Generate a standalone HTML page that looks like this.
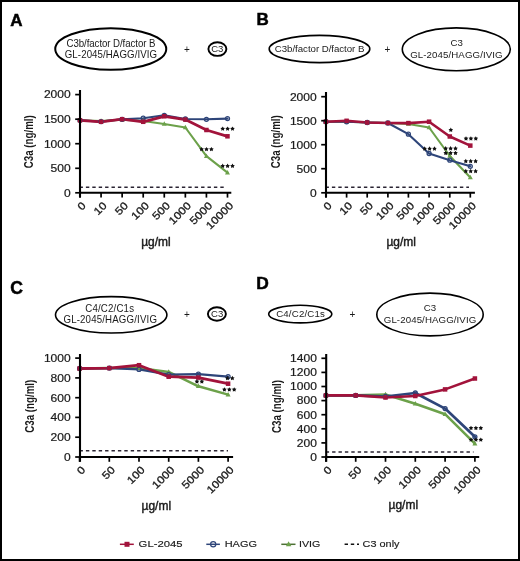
<!DOCTYPE html><html><head><meta charset="utf-8"><style>html,body{margin:0;padding:0;background:#fff;}svg{display:block;will-change:transform;}text{font-family:"Liberation Sans", sans-serif;}</style></head><body>
<svg width="520" height="561" viewBox="0 0 520 561">
<rect x="0" y="0" width="520" height="561" fill="#fff"/>
<rect x="1" y="1" width="518" height="559" fill="none" stroke="#000" stroke-width="2"/>
<text x="10.3" y="25.8" font-size="17" text-anchor="start" font-weight="bold" fill="#000" stroke="#000" stroke-width="0.5">A</text>
<text x="256.5" y="24.8" font-size="17" text-anchor="start" font-weight="bold" fill="#000" stroke="#000" stroke-width="0.5">B</text>
<text x="10.3" y="293.9" font-size="17.6" text-anchor="start" font-weight="bold" fill="#000" stroke="#000" stroke-width="0.5">C</text>
<text x="256.3" y="289" font-size="17.4" text-anchor="start" font-weight="bold" fill="#000" stroke="#000" stroke-width="0.5">D</text>
<ellipse cx="110.75" cy="49" rx="55.5" ry="20.8" fill="none" stroke="#000" stroke-width="2"/>
<text x="0" y="0" transform="translate(111 46.8) scale(1 1.15)" font-size="9.7" text-anchor="middle" font-weight="normal" fill="#1a1a1a" textLength="89" lengthAdjust="spacing" >C3b/factor D/factor B</text>
<text x="0" y="0" transform="translate(110.9 57.6) scale(1 1.15)" font-size="9.7" text-anchor="middle" font-weight="normal" fill="#1a1a1a" textLength="92.3" lengthAdjust="spacing" >GL-2045/HAGG/IVIG</text>
<text x="186.8" y="53" font-size="10" text-anchor="middle" font-weight="normal" fill="#1a1a1a" >+</text>
<ellipse cx="217.4" cy="49.1" rx="9" ry="6.8" fill="none" stroke="#000" stroke-width="1.9"/>
<text x="217.3" y="52.3" font-size="9.6" text-anchor="middle" font-weight="normal" fill="#1a1a1a" textLength="12.2" lengthAdjust="spacingAndGlyphs" >C3</text>
<ellipse cx="319.5" cy="49" rx="50.3" ry="13.6" fill="none" stroke="#000" stroke-width="1.6"/>
<text x="0" y="0" transform="translate(319.6 51.9) scale(1 0.95)" font-size="9.7" text-anchor="middle" font-weight="normal" fill="#1a1a1a" textLength="89.6" lengthAdjust="spacing" >C3b/factor D/factor B</text>
<text x="387.5" y="53" font-size="10" text-anchor="middle" font-weight="normal" fill="#1a1a1a" >+</text>
<ellipse cx="456.3" cy="49.3" rx="54" ry="21.4" fill="none" stroke="#000" stroke-width="1.6"/>
<text x="0" y="0" transform="translate(456.7 46) scale(1 0.97)" font-size="9.7" text-anchor="middle" font-weight="normal" fill="#1a1a1a" >C3</text>
<text x="0" y="0" transform="translate(456.4 57.8) scale(1 0.97)" font-size="9.7" text-anchor="middle" font-weight="normal" fill="#1a1a1a" textLength="92.5" lengthAdjust="spacing" >GL-2045/HAGG/IVIG</text>
<ellipse cx="111.2" cy="314.8" rx="55.7" ry="18.2" fill="none" stroke="#000" stroke-width="1.6"/>
<text x="0" y="0" transform="translate(109.6 312) scale(1 1.15)" font-size="9.7" text-anchor="middle" font-weight="normal" fill="#1a1a1a" textLength="48.8" lengthAdjust="spacing" >C4/C2/C1s</text>
<text x="0" y="0" transform="translate(110.2 323) scale(1 1.15)" font-size="9.7" text-anchor="middle" font-weight="normal" fill="#1a1a1a" textLength="93.5" lengthAdjust="spacing" >GL-2045/HAGG/IVIG</text>
<text x="186.8" y="318" font-size="10" text-anchor="middle" font-weight="normal" fill="#1a1a1a" >+</text>
<ellipse cx="216.9" cy="314" rx="9" ry="6.7" fill="none" stroke="#000" stroke-width="1.9"/>
<text x="217.1" y="317.3" font-size="9.6" text-anchor="middle" font-weight="normal" fill="#1a1a1a" textLength="12.2" lengthAdjust="spacingAndGlyphs" >C3</text>
<ellipse cx="300.25" cy="314.1" rx="31.6" ry="8.8" fill="none" stroke="#000" stroke-width="1.6"/>
<text x="0" y="0" transform="translate(300.5 317.3) scale(1 0.97)" font-size="9.7" text-anchor="middle" font-weight="normal" fill="#1a1a1a" textLength="48.7" lengthAdjust="spacing" >C4/C2/C1s</text>
<text x="352.5" y="318" font-size="10" text-anchor="middle" font-weight="normal" fill="#1a1a1a" >+</text>
<ellipse cx="430" cy="314.5" rx="53.2" ry="21.4" fill="none" stroke="#000" stroke-width="1.6"/>
<text x="0" y="0" transform="translate(430 311) scale(1 0.97)" font-size="9.7" text-anchor="middle" font-weight="normal" fill="#1a1a1a" >C3</text>
<text x="0" y="0" transform="translate(430 322.6) scale(1 0.97)" font-size="9.7" text-anchor="middle" font-weight="normal" fill="#1a1a1a" textLength="92.5" lengthAdjust="spacing" >GL-2045/HAGG/IVIG</text>
<line x1="79.5" y1="187.3" x2="224" y2="187.3" stroke="#2a2433" stroke-width="1.4" stroke-dasharray="3.4 3.0"/>
<polyline points="80,120.3 101.07,121 122.14,119.6 143.21,121 164.28,124 185.35,127.5 206.42,156.2 227.49,172.6" fill="none" stroke="#6ca14a" stroke-width="2.1" stroke-linejoin="round" stroke-linecap="round"/>
<polyline points="80,120.3 101.07,121.6 122.14,119.3 143.21,118.2 164.28,115.3 185.35,119 206.42,119.3 227.49,118.6" fill="none" stroke="#2e4579" stroke-width="2.1" stroke-linejoin="round" stroke-linecap="round"/>
<polyline points="80,120.3 101.07,121.8 122.14,119.2 143.21,121.8 164.28,116.3 185.35,119.6 206.42,130 227.49,136.3" fill="none" stroke="#a2133b" stroke-width="2.8" stroke-linejoin="round" stroke-linecap="round"/>
<polygon points="80,117.6 77.5,122.1 82.5,122.1" fill="#6ca14a"/>
<polygon points="101.07,118.3 98.57,122.8 103.57,122.8" fill="#6ca14a"/>
<polygon points="122.14,116.9 119.64,121.4 124.64,121.4" fill="#6ca14a"/>
<polygon points="143.21,118.3 140.71,122.8 145.71,122.8" fill="#6ca14a"/>
<polygon points="164.28,121.3 161.78,125.8 166.78,125.8" fill="#6ca14a"/>
<polygon points="185.35,124.8 182.85,129.3 187.85,129.3" fill="#6ca14a"/>
<polygon points="206.42,153.5 203.92,158 208.92,158" fill="#6ca14a"/>
<polygon points="227.49,169.9 224.99,174.4 229.99,174.4" fill="#6ca14a"/>
<circle cx="80" cy="120.3" r="2" fill="none" stroke="#2e4579" stroke-width="1.3"/>
<circle cx="101.07" cy="121.6" r="2" fill="none" stroke="#2e4579" stroke-width="1.3"/>
<circle cx="122.14" cy="119.3" r="2" fill="none" stroke="#2e4579" stroke-width="1.3"/>
<circle cx="143.21" cy="118.2" r="2" fill="none" stroke="#2e4579" stroke-width="1.3"/>
<circle cx="164.28" cy="115.3" r="2" fill="none" stroke="#2e4579" stroke-width="1.3"/>
<circle cx="185.35" cy="119" r="2" fill="none" stroke="#2e4579" stroke-width="1.3"/>
<circle cx="206.42" cy="119.3" r="2" fill="none" stroke="#2e4579" stroke-width="1.3"/>
<circle cx="227.49" cy="118.6" r="2" fill="none" stroke="#2e4579" stroke-width="1.3"/>
<rect x="77.75" y="118.05" width="4.5" height="4.5" fill="#a2133b"/>
<rect x="98.82" y="119.55" width="4.5" height="4.5" fill="#a2133b"/>
<rect x="119.89" y="116.95" width="4.5" height="4.5" fill="#a2133b"/>
<rect x="140.96" y="119.55" width="4.5" height="4.5" fill="#a2133b"/>
<rect x="162.03" y="114.05" width="4.5" height="4.5" fill="#a2133b"/>
<rect x="183.1" y="117.35" width="4.5" height="4.5" fill="#a2133b"/>
<rect x="204.17" y="127.75" width="4.5" height="4.5" fill="#a2133b"/>
<rect x="225.24" y="134.05" width="4.5" height="4.5" fill="#a2133b"/>
<polygon points="222.7,126.4 223.48,127.73 224.98,128.06 223.96,129.21 224.11,130.74 222.7,130.12 221.29,130.74 221.44,129.21 220.42,128.06 221.92,127.73" fill="#111"/>
<polygon points="227.6,126.4 228.38,127.73 229.88,128.06 228.86,129.21 229.01,130.74 227.6,130.12 226.19,130.74 226.34,129.21 225.32,128.06 226.82,127.73" fill="#111"/>
<polygon points="232.5,126.4 233.28,127.73 234.78,128.06 233.76,129.21 233.91,130.74 232.5,130.12 231.09,130.74 231.24,129.21 230.22,128.06 231.72,127.73" fill="#111"/>
<polygon points="201.6,146.9 202.38,148.23 203.88,148.56 202.86,149.71 203.01,151.24 201.6,150.62 200.19,151.24 200.34,149.71 199.32,148.56 200.82,148.23" fill="#111"/>
<polygon points="206.5,146.9 207.28,148.23 208.78,148.56 207.76,149.71 207.91,151.24 206.5,150.62 205.09,151.24 205.24,149.71 204.22,148.56 205.72,148.23" fill="#111"/>
<polygon points="211.4,146.9 212.18,148.23 213.68,148.56 212.66,149.71 212.81,151.24 211.4,150.62 209.99,151.24 210.14,149.71 209.12,148.56 210.62,148.23" fill="#111"/>
<polygon points="222.7,163.6 223.48,164.93 224.98,165.26 223.96,166.41 224.11,167.94 222.7,167.32 221.29,167.94 221.44,166.41 220.42,165.26 221.92,164.93" fill="#111"/>
<polygon points="227.6,163.6 228.38,164.93 229.88,165.26 228.86,166.41 229.01,167.94 227.6,167.32 226.19,167.94 226.34,166.41 225.32,165.26 226.82,164.93" fill="#111"/>
<polygon points="232.5,163.6 233.28,164.93 234.78,165.26 233.76,166.41 233.91,167.94 232.5,167.32 231.09,167.94 231.24,166.41 230.22,165.26 231.72,164.93" fill="#111"/>
<line x1="75.2" y1="94.6" x2="80" y2="94.6" stroke="#000" stroke-width="1.7" />
<text x="70.7" y="98.4" font-size="10.6" text-anchor="end" font-weight="normal" fill="#1a1a1a" textLength="26.8" lengthAdjust="spacingAndGlyphs" stroke="#1a1a1a" stroke-width="0.2">2000</text>
<line x1="75.2" y1="119.2" x2="80" y2="119.2" stroke="#000" stroke-width="1.7" />
<text x="70.7" y="123" font-size="10.6" text-anchor="end" font-weight="normal" fill="#1a1a1a" textLength="26.8" lengthAdjust="spacingAndGlyphs" stroke="#1a1a1a" stroke-width="0.2">1500</text>
<line x1="75.2" y1="143.7" x2="80" y2="143.7" stroke="#000" stroke-width="1.7" />
<text x="70.7" y="147.5" font-size="10.6" text-anchor="end" font-weight="normal" fill="#1a1a1a" textLength="26.8" lengthAdjust="spacingAndGlyphs" stroke="#1a1a1a" stroke-width="0.2">1000</text>
<line x1="75.2" y1="168.3" x2="80" y2="168.3" stroke="#000" stroke-width="1.7" />
<text x="70.7" y="172.1" font-size="10.6" text-anchor="end" font-weight="normal" fill="#1a1a1a" textLength="20.1" lengthAdjust="spacingAndGlyphs" stroke="#1a1a1a" stroke-width="0.2">500</text>
<line x1="75.2" y1="192.8" x2="80" y2="192.8" stroke="#000" stroke-width="1.7" />
<text x="70.7" y="196.6" font-size="10.6" text-anchor="end" font-weight="normal" fill="#1a1a1a" textLength="6.7" lengthAdjust="spacingAndGlyphs" stroke="#1a1a1a" stroke-width="0.2">0</text>
<line x1="80" y1="90" x2="80" y2="197.6" stroke="#000" stroke-width="2.1" />
<line x1="79" y1="192.8" x2="231.3" y2="192.8" stroke="#000" stroke-width="2.1" />
<line x1="80" y1="192.8" x2="80" y2="197.6" stroke="#000" stroke-width="1.7" />
<text x="0" y="0" font-size="10.6" text-anchor="end" fill="#1a1a1a" stroke="#1a1a1a" stroke-width="0.3" textLength="6.7" lengthAdjust="spacingAndGlyphs" transform="translate(86.5 206.3) rotate(-45)">0</text>
<line x1="101.07" y1="192.8" x2="101.07" y2="197.6" stroke="#000" stroke-width="1.7" />
<text x="0" y="0" font-size="10.6" text-anchor="end" fill="#1a1a1a" stroke="#1a1a1a" stroke-width="0.3" textLength="13.4" lengthAdjust="spacingAndGlyphs" transform="translate(107.57 206.3) rotate(-45)">10</text>
<line x1="122.14" y1="192.8" x2="122.14" y2="197.6" stroke="#000" stroke-width="1.7" />
<text x="0" y="0" font-size="10.6" text-anchor="end" fill="#1a1a1a" stroke="#1a1a1a" stroke-width="0.3" textLength="13.4" lengthAdjust="spacingAndGlyphs" transform="translate(128.64 206.3) rotate(-45)">50</text>
<line x1="143.21" y1="192.8" x2="143.21" y2="197.6" stroke="#000" stroke-width="1.7" />
<text x="0" y="0" font-size="10.6" text-anchor="end" fill="#1a1a1a" stroke="#1a1a1a" stroke-width="0.3" textLength="20.1" lengthAdjust="spacingAndGlyphs" transform="translate(149.71 206.3) rotate(-45)">100</text>
<line x1="164.28" y1="192.8" x2="164.28" y2="197.6" stroke="#000" stroke-width="1.7" />
<text x="0" y="0" font-size="10.6" text-anchor="end" fill="#1a1a1a" stroke="#1a1a1a" stroke-width="0.3" textLength="20.1" lengthAdjust="spacingAndGlyphs" transform="translate(170.78 206.3) rotate(-45)">500</text>
<line x1="185.35" y1="192.8" x2="185.35" y2="197.6" stroke="#000" stroke-width="1.7" />
<text x="0" y="0" font-size="10.6" text-anchor="end" fill="#1a1a1a" stroke="#1a1a1a" stroke-width="0.3" textLength="26.8" lengthAdjust="spacingAndGlyphs" transform="translate(191.85 206.3) rotate(-45)">1000</text>
<line x1="206.42" y1="192.8" x2="206.42" y2="197.6" stroke="#000" stroke-width="1.7" />
<text x="0" y="0" font-size="10.6" text-anchor="end" fill="#1a1a1a" stroke="#1a1a1a" stroke-width="0.3" textLength="26.8" lengthAdjust="spacingAndGlyphs" transform="translate(212.92 206.3) rotate(-45)">5000</text>
<line x1="227.49" y1="192.8" x2="227.49" y2="197.6" stroke="#000" stroke-width="1.7" />
<text x="0" y="0" font-size="10.6" text-anchor="end" fill="#1a1a1a" stroke="#1a1a1a" stroke-width="0.3" textLength="33.5" lengthAdjust="spacingAndGlyphs" transform="translate(233.99 206.3) rotate(-45)">10000</text>
<text x="0" y="0" font-size="13" font-weight="bold" text-anchor="middle" fill="#1a1a1a" textLength="53" lengthAdjust="spacingAndGlyphs" transform="translate(33.3 141.7) rotate(-90)">C3a (ng/ml)</text>
<text x="155.9" y="245.6" font-size="13" font-weight="normal" stroke="#1a1a1a" stroke-width="0.45" text-anchor="middle" fill="#1a1a1a" textLength="29.5" lengthAdjust="spacingAndGlyphs">µg/ml</text>
<line x1="325.5" y1="187.3" x2="469" y2="187.3" stroke="#2a2433" stroke-width="1.4" stroke-dasharray="3.4 3.0"/>
<polyline points="325.9,121.7 346.6,121.8 367.2,122.5 387.9,123 408.4,124 429.1,127.5 449.8,156 470.3,177.5" fill="none" stroke="#6ca14a" stroke-width="2.1" stroke-linejoin="round" stroke-linecap="round"/>
<polyline points="325.9,121.7 346.6,121.8 367.2,122.5 387.9,123 408.4,134.2 429.1,153.5 449.8,160.2 470.3,166.3" fill="none" stroke="#2e4579" stroke-width="2.1" stroke-linejoin="round" stroke-linecap="round"/>
<polyline points="325.9,121.7 346.6,120.8 367.2,122.5 387.9,123 408.4,123.1 429.1,121.7 449.8,136.5 470.3,145.6" fill="none" stroke="#a2133b" stroke-width="2.6" stroke-linejoin="round" stroke-linecap="round"/>
<polygon points="325.9,119 323.4,123.5 328.4,123.5" fill="#6ca14a"/>
<polygon points="346.6,119.1 344.1,123.6 349.1,123.6" fill="#6ca14a"/>
<polygon points="367.2,119.8 364.7,124.3 369.7,124.3" fill="#6ca14a"/>
<polygon points="387.9,120.3 385.4,124.8 390.4,124.8" fill="#6ca14a"/>
<polygon points="408.4,121.3 405.9,125.8 410.9,125.8" fill="#6ca14a"/>
<polygon points="429.1,124.8 426.6,129.3 431.6,129.3" fill="#6ca14a"/>
<polygon points="449.8,153.3 447.3,157.8 452.3,157.8" fill="#6ca14a"/>
<polygon points="470.3,174.8 467.8,179.3 472.8,179.3" fill="#6ca14a"/>
<circle cx="325.9" cy="121.7" r="2" fill="none" stroke="#2e4579" stroke-width="1.3"/>
<circle cx="346.6" cy="121.8" r="2" fill="none" stroke="#2e4579" stroke-width="1.3"/>
<circle cx="367.2" cy="122.5" r="2" fill="none" stroke="#2e4579" stroke-width="1.3"/>
<circle cx="387.9" cy="123" r="2" fill="none" stroke="#2e4579" stroke-width="1.3"/>
<circle cx="408.4" cy="134.2" r="2" fill="none" stroke="#2e4579" stroke-width="1.3"/>
<circle cx="429.1" cy="153.5" r="2" fill="none" stroke="#2e4579" stroke-width="1.3"/>
<circle cx="449.8" cy="160.2" r="2" fill="none" stroke="#2e4579" stroke-width="1.3"/>
<circle cx="470.3" cy="166.3" r="2" fill="none" stroke="#2e4579" stroke-width="1.3"/>
<rect x="323.65" y="119.45" width="4.5" height="4.5" fill="#a2133b"/>
<rect x="344.35" y="118.55" width="4.5" height="4.5" fill="#a2133b"/>
<rect x="364.95" y="120.25" width="4.5" height="4.5" fill="#a2133b"/>
<rect x="385.65" y="120.75" width="4.5" height="4.5" fill="#a2133b"/>
<rect x="406.15" y="120.85" width="4.5" height="4.5" fill="#a2133b"/>
<rect x="426.85" y="119.45" width="4.5" height="4.5" fill="#a2133b"/>
<rect x="447.55" y="134.25" width="4.5" height="4.5" fill="#a2133b"/>
<rect x="468.05" y="143.35" width="4.5" height="4.5" fill="#a2133b"/>
<polygon points="450.8,127.6 451.58,128.93 453.08,129.26 452.06,130.41 452.21,131.94 450.8,131.32 449.39,131.94 449.54,130.41 448.52,129.26 450.02,128.93" fill="#111"/>
<polygon points="466,136.2 466.78,137.53 468.28,137.86 467.26,139.01 467.41,140.54 466,139.92 464.59,140.54 464.74,139.01 463.72,137.86 465.22,137.53" fill="#111"/>
<polygon points="470.9,136.2 471.68,137.53 473.18,137.86 472.16,139.01 472.31,140.54 470.9,139.92 469.49,140.54 469.64,139.01 468.62,137.86 470.12,137.53" fill="#111"/>
<polygon points="475.8,136.2 476.58,137.53 478.08,137.86 477.06,139.01 477.21,140.54 475.8,139.92 474.39,140.54 474.54,139.01 473.52,137.86 475.02,137.53" fill="#111"/>
<polygon points="424.7,146.3 425.48,147.63 426.98,147.96 425.96,149.11 426.11,150.64 424.7,150.02 423.29,150.64 423.44,149.11 422.42,147.96 423.92,147.63" fill="#111"/>
<polygon points="429.6,146.3 430.38,147.63 431.88,147.96 430.86,149.11 431.01,150.64 429.6,150.02 428.19,150.64 428.34,149.11 427.32,147.96 428.82,147.63" fill="#111"/>
<polygon points="434.5,146.3 435.28,147.63 436.78,147.96 435.76,149.11 435.91,150.64 434.5,150.02 433.09,150.64 433.24,149.11 432.22,147.96 433.72,147.63" fill="#111"/>
<polygon points="445.7,146.1 446.48,147.43 447.98,147.76 446.96,148.91 447.11,150.44 445.7,149.82 444.29,150.44 444.44,148.91 443.42,147.76 444.92,147.43" fill="#111"/>
<polygon points="450.6,146.1 451.38,147.43 452.88,147.76 451.86,148.91 452.01,150.44 450.6,149.82 449.19,150.44 449.34,148.91 448.32,147.76 449.82,147.43" fill="#111"/>
<polygon points="455.5,146.1 456.28,147.43 457.78,147.76 456.76,148.91 456.91,150.44 455.5,149.82 454.09,150.44 454.24,148.91 453.22,147.76 454.72,147.43" fill="#111"/>
<polygon points="445.7,150.7 446.48,152.03 447.98,152.36 446.96,153.51 447.11,155.04 445.7,154.42 444.29,155.04 444.44,153.51 443.42,152.36 444.92,152.03" fill="#111"/>
<polygon points="450.6,150.7 451.38,152.03 452.88,152.36 451.86,153.51 452.01,155.04 450.6,154.42 449.19,155.04 449.34,153.51 448.32,152.36 449.82,152.03" fill="#111"/>
<polygon points="455.5,150.7 456.28,152.03 457.78,152.36 456.76,153.51 456.91,155.04 455.5,154.42 454.09,155.04 454.24,153.51 453.22,152.36 454.72,152.03" fill="#111"/>
<polygon points="465.8,158.8 466.58,160.13 468.08,160.46 467.06,161.61 467.21,163.14 465.8,162.52 464.39,163.14 464.54,161.61 463.52,160.46 465.02,160.13" fill="#111"/>
<polygon points="470.7,158.8 471.48,160.13 472.98,160.46 471.96,161.61 472.11,163.14 470.7,162.52 469.29,163.14 469.44,161.61 468.42,160.46 469.92,160.13" fill="#111"/>
<polygon points="475.6,158.8 476.38,160.13 477.88,160.46 476.86,161.61 477.01,163.14 475.6,162.52 474.19,163.14 474.34,161.61 473.32,160.46 474.82,160.13" fill="#111"/>
<polygon points="465.8,168.8 466.58,170.13 468.08,170.46 467.06,171.61 467.21,173.14 465.8,172.52 464.39,173.14 464.54,171.61 463.52,170.46 465.02,170.13" fill="#111"/>
<polygon points="470.7,168.8 471.48,170.13 472.98,170.46 471.96,171.61 472.11,173.14 470.7,172.52 469.29,173.14 469.44,171.61 468.42,170.46 469.92,170.13" fill="#111"/>
<polygon points="475.6,168.8 476.38,170.13 477.88,170.46 476.86,171.61 477.01,173.14 475.6,172.52 474.19,173.14 474.34,171.61 473.32,170.46 474.82,170.13" fill="#111"/>
<line x1="321.2" y1="96.7" x2="326" y2="96.7" stroke="#000" stroke-width="1.7" />
<text x="316.7" y="100.5" font-size="10.6" text-anchor="end" font-weight="normal" fill="#1a1a1a" textLength="26.8" lengthAdjust="spacingAndGlyphs" stroke="#1a1a1a" stroke-width="0.2">2000</text>
<line x1="321.2" y1="120.7" x2="326" y2="120.7" stroke="#000" stroke-width="1.7" />
<text x="316.7" y="124.5" font-size="10.6" text-anchor="end" font-weight="normal" fill="#1a1a1a" textLength="26.8" lengthAdjust="spacingAndGlyphs" stroke="#1a1a1a" stroke-width="0.2">1500</text>
<line x1="321.2" y1="144.7" x2="326" y2="144.7" stroke="#000" stroke-width="1.7" />
<text x="316.7" y="148.5" font-size="10.6" text-anchor="end" font-weight="normal" fill="#1a1a1a" textLength="26.8" lengthAdjust="spacingAndGlyphs" stroke="#1a1a1a" stroke-width="0.2">1000</text>
<line x1="321.2" y1="168.7" x2="326" y2="168.7" stroke="#000" stroke-width="1.7" />
<text x="316.7" y="172.5" font-size="10.6" text-anchor="end" font-weight="normal" fill="#1a1a1a" textLength="20.1" lengthAdjust="spacingAndGlyphs" stroke="#1a1a1a" stroke-width="0.2">500</text>
<line x1="321.2" y1="192.8" x2="326" y2="192.8" stroke="#000" stroke-width="1.7" />
<text x="316.7" y="196.6" font-size="10.6" text-anchor="end" font-weight="normal" fill="#1a1a1a" textLength="6.7" lengthAdjust="spacingAndGlyphs" stroke="#1a1a1a" stroke-width="0.2">0</text>
<line x1="326" y1="92" x2="326" y2="197.6" stroke="#000" stroke-width="2.1" />
<line x1="325" y1="192.8" x2="474.9" y2="192.8" stroke="#000" stroke-width="2.1" />
<line x1="325.9" y1="192.8" x2="325.9" y2="197.6" stroke="#000" stroke-width="1.7" />
<text x="0" y="0" font-size="10.6" text-anchor="end" fill="#1a1a1a" stroke="#1a1a1a" stroke-width="0.3" textLength="6.7" lengthAdjust="spacingAndGlyphs" transform="translate(332.4 206.3) rotate(-45)">0</text>
<line x1="346.6" y1="192.8" x2="346.6" y2="197.6" stroke="#000" stroke-width="1.7" />
<text x="0" y="0" font-size="10.6" text-anchor="end" fill="#1a1a1a" stroke="#1a1a1a" stroke-width="0.3" textLength="13.4" lengthAdjust="spacingAndGlyphs" transform="translate(353.1 206.3) rotate(-45)">10</text>
<line x1="367.2" y1="192.8" x2="367.2" y2="197.6" stroke="#000" stroke-width="1.7" />
<text x="0" y="0" font-size="10.6" text-anchor="end" fill="#1a1a1a" stroke="#1a1a1a" stroke-width="0.3" textLength="13.4" lengthAdjust="spacingAndGlyphs" transform="translate(373.7 206.3) rotate(-45)">50</text>
<line x1="387.9" y1="192.8" x2="387.9" y2="197.6" stroke="#000" stroke-width="1.7" />
<text x="0" y="0" font-size="10.6" text-anchor="end" fill="#1a1a1a" stroke="#1a1a1a" stroke-width="0.3" textLength="20.1" lengthAdjust="spacingAndGlyphs" transform="translate(394.4 206.3) rotate(-45)">100</text>
<line x1="408.4" y1="192.8" x2="408.4" y2="197.6" stroke="#000" stroke-width="1.7" />
<text x="0" y="0" font-size="10.6" text-anchor="end" fill="#1a1a1a" stroke="#1a1a1a" stroke-width="0.3" textLength="20.1" lengthAdjust="spacingAndGlyphs" transform="translate(414.9 206.3) rotate(-45)">500</text>
<line x1="429.1" y1="192.8" x2="429.1" y2="197.6" stroke="#000" stroke-width="1.7" />
<text x="0" y="0" font-size="10.6" text-anchor="end" fill="#1a1a1a" stroke="#1a1a1a" stroke-width="0.3" textLength="26.8" lengthAdjust="spacingAndGlyphs" transform="translate(435.6 206.3) rotate(-45)">1000</text>
<line x1="449.8" y1="192.8" x2="449.8" y2="197.6" stroke="#000" stroke-width="1.7" />
<text x="0" y="0" font-size="10.6" text-anchor="end" fill="#1a1a1a" stroke="#1a1a1a" stroke-width="0.3" textLength="26.8" lengthAdjust="spacingAndGlyphs" transform="translate(456.3 206.3) rotate(-45)">5000</text>
<line x1="470.3" y1="192.8" x2="470.3" y2="197.6" stroke="#000" stroke-width="1.7" />
<text x="0" y="0" font-size="10.6" text-anchor="end" fill="#1a1a1a" stroke="#1a1a1a" stroke-width="0.3" textLength="33.5" lengthAdjust="spacingAndGlyphs" transform="translate(476.8 206.3) rotate(-45)">10000</text>
<text x="0" y="0" font-size="13" font-weight="bold" text-anchor="middle" fill="#1a1a1a" textLength="53" lengthAdjust="spacingAndGlyphs" transform="translate(280.4 141.7) rotate(-90)">C3a (ng/ml)</text>
<text x="401.2" y="245.8" font-size="13" font-weight="normal" stroke="#1a1a1a" stroke-width="0.45" text-anchor="middle" fill="#1a1a1a" textLength="29.5" lengthAdjust="spacingAndGlyphs">µg/ml</text>
<line x1="79.5" y1="450.8" x2="228" y2="450.8" stroke="#2a2433" stroke-width="1.4" stroke-dasharray="3.4 3.0"/>
<polyline points="79.6,368.5 109.3,368.1 139,368 168.7,371.9 198.4,386.3 228.1,394.6" fill="none" stroke="#6ca14a" stroke-width="2.5" stroke-linejoin="round" stroke-linecap="round"/>
<polyline points="79.6,368.5 109.3,368.1 139,369.4 168.7,374.6 198.4,374.2 228.1,376.7" fill="none" stroke="#2e4579" stroke-width="2.3" stroke-linejoin="round" stroke-linecap="round"/>
<polyline points="79.6,368.5 109.3,368.1 139,365.2 168.7,376.7 198.4,377.6 228.1,383.7" fill="none" stroke="#a2133b" stroke-width="2.8" stroke-linejoin="round" stroke-linecap="round"/>
<polygon points="79.6,365.8 77.1,370.3 82.1,370.3" fill="#6ca14a"/>
<polygon points="109.3,365.4 106.8,369.9 111.8,369.9" fill="#6ca14a"/>
<polygon points="139,365.3 136.5,369.8 141.5,369.8" fill="#6ca14a"/>
<polygon points="168.7,369.2 166.2,373.7 171.2,373.7" fill="#6ca14a"/>
<polygon points="198.4,383.6 195.9,388.1 200.9,388.1" fill="#6ca14a"/>
<polygon points="228.1,391.9 225.6,396.4 230.6,396.4" fill="#6ca14a"/>
<circle cx="79.6" cy="368.5" r="2" fill="none" stroke="#2e4579" stroke-width="1.3"/>
<circle cx="109.3" cy="368.1" r="2" fill="none" stroke="#2e4579" stroke-width="1.3"/>
<circle cx="139" cy="369.4" r="2" fill="none" stroke="#2e4579" stroke-width="1.3"/>
<circle cx="168.7" cy="374.6" r="2" fill="none" stroke="#2e4579" stroke-width="1.3"/>
<circle cx="198.4" cy="374.2" r="2" fill="none" stroke="#2e4579" stroke-width="1.3"/>
<circle cx="228.1" cy="376.7" r="2" fill="none" stroke="#2e4579" stroke-width="1.3"/>
<rect x="77.35" y="366.25" width="4.5" height="4.5" fill="#a2133b"/>
<rect x="107.05" y="365.85" width="4.5" height="4.5" fill="#a2133b"/>
<rect x="136.75" y="362.95" width="4.5" height="4.5" fill="#a2133b"/>
<rect x="166.45" y="374.45" width="4.5" height="4.5" fill="#a2133b"/>
<rect x="196.15" y="375.35" width="4.5" height="4.5" fill="#a2133b"/>
<rect x="225.85" y="381.45" width="4.5" height="4.5" fill="#a2133b"/>
<polygon points="196.95,379.2 197.73,380.53 199.23,380.86 198.21,382.01 198.36,383.54 196.95,382.92 195.54,383.54 195.69,382.01 194.67,380.86 196.17,380.53" fill="#111"/>
<polygon points="201.85,379.2 202.63,380.53 204.13,380.86 203.11,382.01 203.26,383.54 201.85,382.92 200.44,383.54 200.59,382.01 199.57,380.86 201.07,380.53" fill="#111"/>
<polygon points="227.45,375.8 228.23,377.13 229.73,377.46 228.71,378.61 228.86,380.14 227.45,379.52 226.04,380.14 226.19,378.61 225.17,377.46 226.67,377.13" fill="#111"/>
<polygon points="232.35,375.8 233.13,377.13 234.63,377.46 233.61,378.61 233.76,380.14 232.35,379.52 230.94,380.14 231.09,378.61 230.07,377.46 231.57,377.13" fill="#111"/>
<polygon points="224.4,387.2 225.18,388.53 226.68,388.86 225.66,390.01 225.81,391.54 224.4,390.92 222.99,391.54 223.14,390.01 222.12,388.86 223.62,388.53" fill="#111"/>
<polygon points="229.3,387.2 230.08,388.53 231.58,388.86 230.56,390.01 230.71,391.54 229.3,390.92 227.89,391.54 228.04,390.01 227.02,388.86 228.52,388.53" fill="#111"/>
<polygon points="234.2,387.2 234.98,388.53 236.48,388.86 235.46,390.01 235.61,391.54 234.2,390.92 232.79,391.54 232.94,390.01 231.92,388.86 233.42,388.53" fill="#111"/>
<line x1="75.2" y1="358.1" x2="80" y2="358.1" stroke="#000" stroke-width="1.7" />
<text x="70.7" y="361.9" font-size="10.6" text-anchor="end" font-weight="normal" fill="#1a1a1a" textLength="26.8" lengthAdjust="spacingAndGlyphs" stroke="#1a1a1a" stroke-width="0.2">1000</text>
<line x1="75.2" y1="377.9" x2="80" y2="377.9" stroke="#000" stroke-width="1.7" />
<text x="70.7" y="381.7" font-size="10.6" text-anchor="end" font-weight="normal" fill="#1a1a1a" textLength="20.1" lengthAdjust="spacingAndGlyphs" stroke="#1a1a1a" stroke-width="0.2">800</text>
<line x1="75.2" y1="397.7" x2="80" y2="397.7" stroke="#000" stroke-width="1.7" />
<text x="70.7" y="401.5" font-size="10.6" text-anchor="end" font-weight="normal" fill="#1a1a1a" textLength="20.1" lengthAdjust="spacingAndGlyphs" stroke="#1a1a1a" stroke-width="0.2">600</text>
<line x1="75.2" y1="417.4" x2="80" y2="417.4" stroke="#000" stroke-width="1.7" />
<text x="70.7" y="421.2" font-size="10.6" text-anchor="end" font-weight="normal" fill="#1a1a1a" textLength="20.1" lengthAdjust="spacingAndGlyphs" stroke="#1a1a1a" stroke-width="0.2">400</text>
<line x1="75.2" y1="437.2" x2="80" y2="437.2" stroke="#000" stroke-width="1.7" />
<text x="70.7" y="441" font-size="10.6" text-anchor="end" font-weight="normal" fill="#1a1a1a" textLength="20.1" lengthAdjust="spacingAndGlyphs" stroke="#1a1a1a" stroke-width="0.2">200</text>
<line x1="75.2" y1="457" x2="80" y2="457" stroke="#000" stroke-width="1.7" />
<text x="70.7" y="460.8" font-size="10.6" text-anchor="end" font-weight="normal" fill="#1a1a1a" textLength="6.7" lengthAdjust="spacingAndGlyphs" stroke="#1a1a1a" stroke-width="0.2">0</text>
<line x1="80" y1="354" x2="80" y2="461.8" stroke="#000" stroke-width="2.1" />
<line x1="79" y1="457" x2="233.1" y2="457" stroke="#000" stroke-width="2.1" />
<line x1="79.6" y1="457" x2="79.6" y2="461.8" stroke="#000" stroke-width="1.7" />
<text x="0" y="0" font-size="10.6" text-anchor="end" fill="#1a1a1a" stroke="#1a1a1a" stroke-width="0.3" textLength="6.7" lengthAdjust="spacingAndGlyphs" transform="translate(86.1 470.5) rotate(-45)">0</text>
<line x1="109.3" y1="457" x2="109.3" y2="461.8" stroke="#000" stroke-width="1.7" />
<text x="0" y="0" font-size="10.6" text-anchor="end" fill="#1a1a1a" stroke="#1a1a1a" stroke-width="0.3" textLength="13.4" lengthAdjust="spacingAndGlyphs" transform="translate(115.8 470.5) rotate(-45)">50</text>
<line x1="139" y1="457" x2="139" y2="461.8" stroke="#000" stroke-width="1.7" />
<text x="0" y="0" font-size="10.6" text-anchor="end" fill="#1a1a1a" stroke="#1a1a1a" stroke-width="0.3" textLength="20.1" lengthAdjust="spacingAndGlyphs" transform="translate(145.5 470.5) rotate(-45)">100</text>
<line x1="168.7" y1="457" x2="168.7" y2="461.8" stroke="#000" stroke-width="1.7" />
<text x="0" y="0" font-size="10.6" text-anchor="end" fill="#1a1a1a" stroke="#1a1a1a" stroke-width="0.3" textLength="26.8" lengthAdjust="spacingAndGlyphs" transform="translate(175.2 470.5) rotate(-45)">1000</text>
<line x1="198.4" y1="457" x2="198.4" y2="461.8" stroke="#000" stroke-width="1.7" />
<text x="0" y="0" font-size="10.6" text-anchor="end" fill="#1a1a1a" stroke="#1a1a1a" stroke-width="0.3" textLength="26.8" lengthAdjust="spacingAndGlyphs" transform="translate(204.9 470.5) rotate(-45)">5000</text>
<line x1="228.1" y1="457" x2="228.1" y2="461.8" stroke="#000" stroke-width="1.7" />
<text x="0" y="0" font-size="10.6" text-anchor="end" fill="#1a1a1a" stroke="#1a1a1a" stroke-width="0.3" textLength="33.5" lengthAdjust="spacingAndGlyphs" transform="translate(234.6 470.5) rotate(-45)">10000</text>
<text x="0" y="0" font-size="13" font-weight="bold" text-anchor="middle" fill="#1a1a1a" textLength="53" lengthAdjust="spacingAndGlyphs" transform="translate(33.8 406.2) rotate(-90)">C3a (ng/ml)</text>
<text x="156.3" y="509.6" font-size="13" font-weight="normal" stroke="#1a1a1a" stroke-width="0.45" text-anchor="middle" fill="#1a1a1a" textLength="29.5" lengthAdjust="spacingAndGlyphs">µg/ml</text>
<line x1="325.7" y1="452" x2="473.5" y2="452" stroke="#2a2433" stroke-width="1.4" stroke-dasharray="3.4 3.0"/>
<polyline points="325.9,395.4 355.7,395.4 385.5,394.5 415.3,403.7 445.1,414.2 474.9,443.7" fill="none" stroke="#6ca14a" stroke-width="2.6" stroke-linejoin="round" stroke-linecap="round"/>
<polyline points="325.9,395.4 355.7,395.4 385.5,396.5 415.3,393 445.1,408.6 474.9,436.8" fill="none" stroke="#2e4579" stroke-width="2.7" stroke-linejoin="round" stroke-linecap="round"/>
<polyline points="325.9,395.4 355.7,395.4 385.5,397.5 415.3,396 445.1,389.4 474.9,378.5" fill="none" stroke="#a2133b" stroke-width="2.6" stroke-linejoin="round" stroke-linecap="round"/>
<polygon points="325.9,392.7 323.4,397.2 328.4,397.2" fill="#6ca14a"/>
<polygon points="355.7,392.7 353.2,397.2 358.2,397.2" fill="#6ca14a"/>
<polygon points="385.5,391.8 383,396.3 388,396.3" fill="#6ca14a"/>
<polygon points="415.3,401 412.8,405.5 417.8,405.5" fill="#6ca14a"/>
<polygon points="445.1,411.5 442.6,416 447.6,416" fill="#6ca14a"/>
<polygon points="474.9,441 472.4,445.5 477.4,445.5" fill="#6ca14a"/>
<circle cx="325.9" cy="395.4" r="2" fill="none" stroke="#2e4579" stroke-width="1.3"/>
<circle cx="355.7" cy="395.4" r="2" fill="none" stroke="#2e4579" stroke-width="1.3"/>
<circle cx="385.5" cy="396.5" r="2" fill="none" stroke="#2e4579" stroke-width="1.3"/>
<circle cx="415.3" cy="393" r="2" fill="none" stroke="#2e4579" stroke-width="1.3"/>
<circle cx="445.1" cy="408.6" r="2" fill="none" stroke="#2e4579" stroke-width="1.3"/>
<circle cx="474.9" cy="436.8" r="2" fill="none" stroke="#2e4579" stroke-width="1.3"/>
<rect x="323.65" y="393.15" width="4.5" height="4.5" fill="#a2133b"/>
<rect x="353.45" y="393.15" width="4.5" height="4.5" fill="#a2133b"/>
<rect x="383.25" y="395.25" width="4.5" height="4.5" fill="#a2133b"/>
<rect x="413.05" y="393.75" width="4.5" height="4.5" fill="#a2133b"/>
<rect x="442.85" y="387.15" width="4.5" height="4.5" fill="#a2133b"/>
<rect x="472.65" y="376.25" width="4.5" height="4.5" fill="#a2133b"/>
<polygon points="471,425.7 471.78,427.03 473.28,427.36 472.26,428.51 472.41,430.04 471,429.42 469.59,430.04 469.74,428.51 468.72,427.36 470.22,427.03" fill="#111"/>
<polygon points="475.9,425.7 476.68,427.03 478.18,427.36 477.16,428.51 477.31,430.04 475.9,429.42 474.49,430.04 474.64,428.51 473.62,427.36 475.12,427.03" fill="#111"/>
<polygon points="480.8,425.7 481.58,427.03 483.08,427.36 482.06,428.51 482.21,430.04 480.8,429.42 479.39,430.04 479.54,428.51 478.52,427.36 480.02,427.03" fill="#111"/>
<polygon points="471,437.4 471.78,438.73 473.28,439.06 472.26,440.21 472.41,441.74 471,441.12 469.59,441.74 469.74,440.21 468.72,439.06 470.22,438.73" fill="#111"/>
<polygon points="475.9,437.4 476.68,438.73 478.18,439.06 477.16,440.21 477.31,441.74 475.9,441.12 474.49,441.74 474.64,440.21 473.62,439.06 475.12,438.73" fill="#111"/>
<polygon points="480.8,437.4 481.58,438.73 483.08,439.06 482.06,440.21 482.21,441.74 480.8,441.12 479.39,441.74 479.54,440.21 478.52,439.06 480.02,438.73" fill="#111"/>
<line x1="321.4" y1="358.3" x2="326.2" y2="358.3" stroke="#000" stroke-width="1.7" />
<text x="316.9" y="362.1" font-size="10.6" text-anchor="end" font-weight="normal" fill="#1a1a1a" textLength="26.8" lengthAdjust="spacingAndGlyphs" stroke="#1a1a1a" stroke-width="0.2">1400</text>
<line x1="321.4" y1="372.4" x2="326.2" y2="372.4" stroke="#000" stroke-width="1.7" />
<text x="316.9" y="376.2" font-size="10.6" text-anchor="end" font-weight="normal" fill="#1a1a1a" textLength="26.8" lengthAdjust="spacingAndGlyphs" stroke="#1a1a1a" stroke-width="0.2">1200</text>
<line x1="321.4" y1="386.5" x2="326.2" y2="386.5" stroke="#000" stroke-width="1.7" />
<text x="316.9" y="390.3" font-size="10.6" text-anchor="end" font-weight="normal" fill="#1a1a1a" textLength="26.8" lengthAdjust="spacingAndGlyphs" stroke="#1a1a1a" stroke-width="0.2">1000</text>
<line x1="321.4" y1="400.6" x2="326.2" y2="400.6" stroke="#000" stroke-width="1.7" />
<text x="316.9" y="404.4" font-size="10.6" text-anchor="end" font-weight="normal" fill="#1a1a1a" textLength="20.1" lengthAdjust="spacingAndGlyphs" stroke="#1a1a1a" stroke-width="0.2">800</text>
<line x1="321.4" y1="414.7" x2="326.2" y2="414.7" stroke="#000" stroke-width="1.7" />
<text x="316.9" y="418.5" font-size="10.6" text-anchor="end" font-weight="normal" fill="#1a1a1a" textLength="20.1" lengthAdjust="spacingAndGlyphs" stroke="#1a1a1a" stroke-width="0.2">600</text>
<line x1="321.4" y1="428.8" x2="326.2" y2="428.8" stroke="#000" stroke-width="1.7" />
<text x="316.9" y="432.6" font-size="10.6" text-anchor="end" font-weight="normal" fill="#1a1a1a" textLength="20.1" lengthAdjust="spacingAndGlyphs" stroke="#1a1a1a" stroke-width="0.2">400</text>
<line x1="321.4" y1="442.9" x2="326.2" y2="442.9" stroke="#000" stroke-width="1.7" />
<text x="316.9" y="446.7" font-size="10.6" text-anchor="end" font-weight="normal" fill="#1a1a1a" textLength="20.1" lengthAdjust="spacingAndGlyphs" stroke="#1a1a1a" stroke-width="0.2">200</text>
<line x1="321.4" y1="457" x2="326.2" y2="457" stroke="#000" stroke-width="1.7" />
<text x="316.9" y="460.8" font-size="10.6" text-anchor="end" font-weight="normal" fill="#1a1a1a" textLength="6.7" lengthAdjust="spacingAndGlyphs" stroke="#1a1a1a" stroke-width="0.2">0</text>
<line x1="326.2" y1="354" x2="326.2" y2="461.8" stroke="#000" stroke-width="2.1" />
<line x1="325.2" y1="457" x2="479.2" y2="457" stroke="#000" stroke-width="2.1" />
<line x1="325.9" y1="457" x2="325.9" y2="461.8" stroke="#000" stroke-width="1.7" />
<text x="0" y="0" font-size="10.6" text-anchor="end" fill="#1a1a1a" stroke="#1a1a1a" stroke-width="0.3" textLength="6.7" lengthAdjust="spacingAndGlyphs" transform="translate(332.4 470.5) rotate(-45)">0</text>
<line x1="355.7" y1="457" x2="355.7" y2="461.8" stroke="#000" stroke-width="1.7" />
<text x="0" y="0" font-size="10.6" text-anchor="end" fill="#1a1a1a" stroke="#1a1a1a" stroke-width="0.3" textLength="13.4" lengthAdjust="spacingAndGlyphs" transform="translate(362.2 470.5) rotate(-45)">50</text>
<line x1="385.5" y1="457" x2="385.5" y2="461.8" stroke="#000" stroke-width="1.7" />
<text x="0" y="0" font-size="10.6" text-anchor="end" fill="#1a1a1a" stroke="#1a1a1a" stroke-width="0.3" textLength="20.1" lengthAdjust="spacingAndGlyphs" transform="translate(392 470.5) rotate(-45)">100</text>
<line x1="415.3" y1="457" x2="415.3" y2="461.8" stroke="#000" stroke-width="1.7" />
<text x="0" y="0" font-size="10.6" text-anchor="end" fill="#1a1a1a" stroke="#1a1a1a" stroke-width="0.3" textLength="26.8" lengthAdjust="spacingAndGlyphs" transform="translate(421.8 470.5) rotate(-45)">1000</text>
<line x1="445.1" y1="457" x2="445.1" y2="461.8" stroke="#000" stroke-width="1.7" />
<text x="0" y="0" font-size="10.6" text-anchor="end" fill="#1a1a1a" stroke="#1a1a1a" stroke-width="0.3" textLength="26.8" lengthAdjust="spacingAndGlyphs" transform="translate(451.6 470.5) rotate(-45)">5000</text>
<line x1="474.9" y1="457" x2="474.9" y2="461.8" stroke="#000" stroke-width="1.7" />
<text x="0" y="0" font-size="10.6" text-anchor="end" fill="#1a1a1a" stroke="#1a1a1a" stroke-width="0.3" textLength="33.5" lengthAdjust="spacingAndGlyphs" transform="translate(481.4 470.5) rotate(-45)">10000</text>
<text x="0" y="0" font-size="13" font-weight="bold" text-anchor="middle" fill="#1a1a1a" textLength="53" lengthAdjust="spacingAndGlyphs" transform="translate(280.7 406.5) rotate(-90)">C3a (ng/ml)</text>
<text x="403.3" y="509.4" font-size="13" font-weight="normal" stroke="#1a1a1a" stroke-width="0.45" text-anchor="middle" fill="#1a1a1a" textLength="29.5" lengthAdjust="spacingAndGlyphs">µg/ml</text>
<line x1="119.9" y1="544.3" x2="133.8" y2="544.3" stroke="#a2133b" stroke-width="1.5" />
<rect x="124.5" y="541.8" width="5" height="5" fill="#a2133b"/>
<text x="138.6" y="547.3" font-size="9.9" text-anchor="start" font-weight="normal" fill="#1a1a1a" textLength="44" lengthAdjust="spacingAndGlyphs" stroke="#1a1a1a" stroke-width="0.15">GL-2045</text>
<line x1="206.3" y1="544.3" x2="219.9" y2="544.3" stroke="#2e4579" stroke-width="1.5" />
<circle cx="213.2" cy="544.3" r="2.6" fill="none" stroke="#2e4579" stroke-width="1.2"/>
<text x="224.7" y="547.3" font-size="9.9" text-anchor="start" font-weight="normal" fill="#1a1a1a" textLength="32.3" lengthAdjust="spacingAndGlyphs" stroke="#1a1a1a" stroke-width="0.15">HAGG</text>
<line x1="281.3" y1="544.3" x2="295.5" y2="544.3" stroke="#4d7035" stroke-width="1.5" />
<polygon points="288.6,541.33 285.85,546.28 291.35,546.28" fill="#6ca14a"/>
<text x="299" y="547.3" font-size="9.9" text-anchor="start" font-weight="normal" fill="#1a1a1a" textLength="21.4" lengthAdjust="spacingAndGlyphs" stroke="#1a1a1a" stroke-width="0.15">IVIG</text>
<line x1="344.6" y1="544.3" x2="359" y2="544.3" stroke="#111" stroke-width="1.5" stroke-dasharray="3.4 2.8"/>
<text x="362.6" y="547.3" font-size="9.9" text-anchor="start" font-weight="normal" fill="#1a1a1a" textLength="36.9" lengthAdjust="spacingAndGlyphs" stroke="#1a1a1a" stroke-width="0.15">C3 only</text>
</svg></body></html>
